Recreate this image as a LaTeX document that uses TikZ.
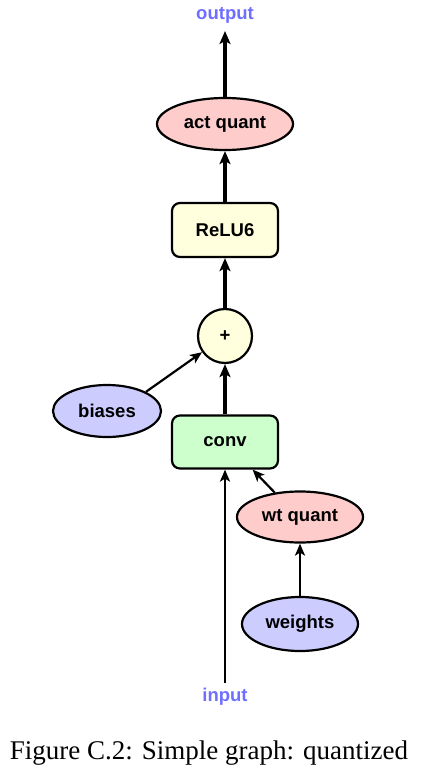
\documentclass[tikz,border=0pt]{standalone}
\usepackage{fontspec}
\setmainfont{Liberation Serif}
\newfontfamily\graphfont{Liberation Sans}
\usetikzlibrary{shapes.geometric,arrows.meta}
\definecolor{qred}{RGB}{255,204,204}
\definecolor{qblue}{RGB}{204,204,255}
\definecolor{qyellow}{RGB}{255,255,221}
\definecolor{qgreen}{RGB}{204,255,204}
\definecolor{qlabel}{RGB}{110,110,255}
\begin{document}
\begin{tikzpicture}[x=1pt,y=-1pt]
    \tikzstyle{every node}=[font=\graphfont\bfseries\fontsize{18.5}{22}\selectfont]
    \tikzstyle{oval}=[ellipse,draw=black,line width=2.2pt,inner sep=0pt]
    \tikzstyle{opbox}=[rectangle,rounded corners=8pt,draw=black,line width=2.2pt,fill=qyellow,minimum width=106pt,minimum height=54pt]
    \tikzstyle{tensor}=[text=qlabel]
    \tikzstyle{thick edge}=[line width=4pt,-{Stealth[length=13pt,width=11pt,inset=3pt]}]
    \tikzstyle{thin edge}=[line width=2.2pt,-{Stealth[length=12pt,width=10pt,inset=3pt]}]
    \useasboundingbox (0,0) rectangle (426,773);
    \node[tensor] (output) at (225,15){output};
    \node[oval,fill=qred,minimum width=136pt,minimum height=52pt] (actq) at (225,124){act quant};
    \node[opbox] (relu) at (225,230){ReLU6};
    \node[circle,draw=black,line width=2.2pt,fill=qyellow,minimum size=54pt,inner sep=0pt] (add) at (225,336){+};
    \node[oval,fill=qblue,minimum width=108pt,minimum height=52pt] (biases) at (107,411){biases};
    \node[opbox,fill=qgreen,minimum height=53pt] (conv) at (225,442){conv};
    \node[oval,fill=qred,minimum width=126pt,minimum height=51pt] (wtq) at (300,517){wt quant};
    \node[oval,fill=qblue,minimum width=116pt,minimum height=54pt] (weights) at (300,624){weights};
    \node[tensor] (input) at (225,697){input};
    \coordinate (inend) at (225,683);
    \coordinate (outend) at (225,31);
    \draw[thick edge] (actq) -- (outend);
    \draw[thick edge] (relu) -- (actq);
    \draw[thick edge] (add) -- (relu);
    \draw[thick edge] (conv) -- (add);
    \draw[thin edge] (biases.north east) -- (add);
    \draw[thin edge] (inend) -- (conv);
    \draw[thin edge] (wtq.136) -- (conv.-45);
    \draw[thin edge] (weights) -- (wtq);
    \node[font=\rmfamily\fontsize{27}{32}\selectfont] (caption) at (209,753){Figure C.2: Simple graph: quantized};
\end{tikzpicture}
\end{document}
